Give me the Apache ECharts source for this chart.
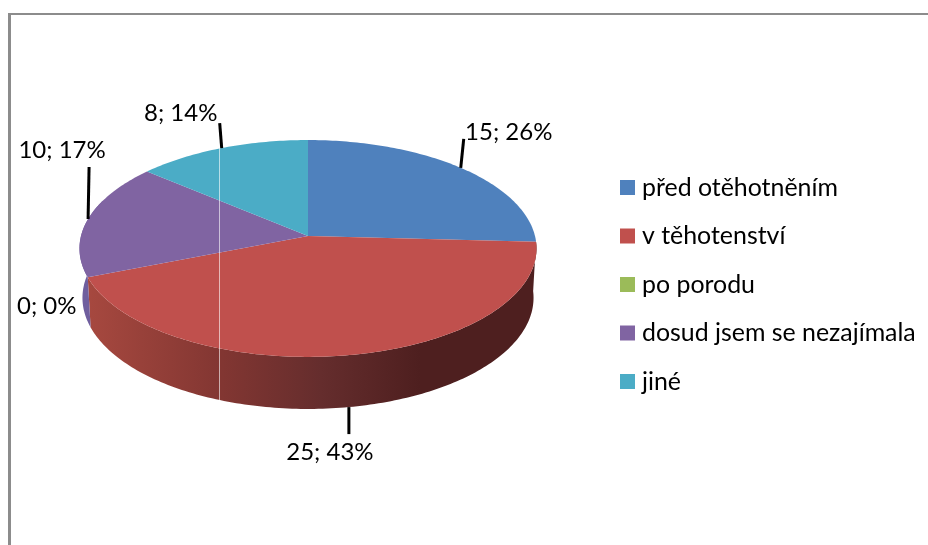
<!DOCTYPE html>
<html>
<head>
<meta charset="utf-8">
<style>html,body{margin:0;padding:0;background:#fff}#chart{width:928px;height:545px}</style>
<script src="https://cdn.jsdelivr.net/npm/echarts@6/dist/echarts.min.js"></script>
</head>
<body>
<div id="chart"></div>
<script>
const categories = ['před otěhotněním', 'v těhotenství', 'po porodu', 'dosud jsem se nezajímala', 'jiné'];
const counts = [15, 25, 0, 10, 8];
const percents = [26, 43, 0, 17, 14];
const colors = ['#4F81BD', '#C0504D', '#9BBB59', '#8064A2', '#4BACC6'];

// leader line and label offsets in px, same order as categories
const leaders = [[3, -29], [0, 27], [0, 0], [1, -52], [-2, -25]];
const labelOffsets = [[48, -36], [-19, 45], [-41, 29], [-26, -69], [-41, -35]];

const font = 'Lato, "Open Sans", sans-serif';
const total = counts.reduce(function (a, b) { return a + b; }, 0);

// perspective of the tilted disc
const tilt = 0.115;
const wallDrop = 0.458;

function topPoint(deg) {
    let r = deg * Math.PI / 180;
    let u = Math.sin(r), v = -Math.cos(r);
    let d = 1 - tilt * v;
    return [u / d, v / d];
}
function bottomPoint(deg) {
    let p = topPoint(deg);
    return [p[0] * 0.987, p[1] * 1.025 + wallDrop];
}

let acc = 0;
const slices = counts.map(function (c) {
    let s = [acc / total * 360, (acc + c) / total * 360];
    acc += c;
    return s;
});

function arc(fn, from, to, api) {
    let pts = [];
    let n = Math.max(1, Math.ceil(Math.abs(to - from)));
    for (let i = 0; i <= n; i++) {
        pts.push(api.coord(fn(from + (to - from) * i / n)));
    }
    return pts;
}

function renderWall(params, api) {
    let from = Math.max(api.value(0), 93);
    let to = Math.min(api.value(1), 290);
    if (to <= from) return null;
    let pts = arc(topPoint, from, to, api).concat(arc(bottomPoint, to, from, api));
    let fill = params.dataIndex === 1
        ? new echarts.graphic.LinearGradient(90, 0, 420, 0, [
            {offset: 0, color: '#A6483F'},
            {offset: 0.4, color: '#823632'},
            {offset: 0.7, color: '#652D2D'},
            {offset: 1, color: '#4E1F1F'}
        ], true)
        : '#6F5E9E';
    return {type: 'polygon', shape: {points: pts}, style: {fill: fill}};
}

function renderSlice(i) {
    return function (params, api) {
        let from = api.value(0), to = api.value(1);
        let children = [];
        if (to > from) {
            let pts = [api.coord([0, 0])].concat(arc(topPoint, from, to, api));
            children.push({type: 'polygon', shape: {points: pts}, style: {fill: colors[i]}});
        }
        let mid = (from + to) / 2;
        let onFront = mid > 90 && mid < 270 && to > from;
        let anchor = api.coord(onFront ? bottomPoint(mid) : topPoint(mid));
        let lead = leaders[i];
        if (lead[0] || lead[1]) {
            children.push({
                type: 'line',
                shape: {x1: anchor[0], y1: anchor[1], x2: anchor[0] + lead[0], y2: anchor[1] + lead[1]},
                style: {stroke: '#000', lineWidth: 3}
            });
        }
        children.push({
            type: 'text',
            style: {
                x: anchor[0] + labelOffsets[i][0],
                y: anchor[1] + labelOffsets[i][1],
                text: counts[i] + '; ' + percents[i] + '%',
                fill: '#000',
                fontSize: 24,
                fontFamily: font,
                align: 'center',
                verticalAlign: 'middle'
            }
        });
        return {type: 'group', children: children};
    };
}

let seriesArray = [{
    type: 'custom',
    name: 'stěna',
    z: 1,
    silent: true,
    renderItem: renderWall,
    data: slices
}];
categories.forEach(function (name, i) {
    seriesArray.push({
        type: 'custom',
        name: name,
        z: 2,
        silent: true,
        itemStyle: {color: colors[i]},
        renderItem: renderSlice(i),
        data: [slices[i]]
    });
});

let myChart = echarts.init(document.getElementById('chart'), null, {renderer: 'canvas'});
myChart.setOption({
    animation: false,
    backgroundColor: '#fff',
    // axes are hidden, 227px / 107px per unit around the pie apex
    grid: {left: 35.6, top: 107.6, width: 544.8, height: 321},
    xAxis: {type: 'value', min: -1.2, max: 1.2, show: false},
    yAxis: {type: 'value', min: -1.2, max: 1.8, inverse: true, show: false},
    legend: {
        data: categories,
        orient: 'vertical',
        left: 615,
        top: 170,
        icon: 'rect',
        itemWidth: 15,
        itemHeight: 15,
        itemGap: 23.5,
        selectedMode: false,
        textStyle: {fontSize: 24.9, fontFamily: font, color: '#000', padding: [0, 0, 0, 2]}
    },
    graphic: [
        {type: 'rect', z: 50, shape: {x: 8, y: 13, width: 3, height: 532}, style: {fill: '#8C8C8C'}},
        {type: 'rect', z: 50, shape: {x: 8, y: 13, width: 920, height: 2}, style: {fill: '#8C8C8C'}},
        {type: 'line', z: 50, shape: {x1: 219.5, y1: 148, x2: 219.5, y2: 400}, style: {stroke: 'rgba(255,255,255,0.6)', lineWidth: 1}}
    ],
    series: seriesArray
});
</script>
</body>
</html>
